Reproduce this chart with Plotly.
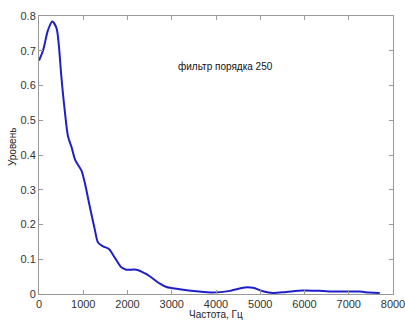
import plotly.graph_objects as go

freq = [0, 90, 205, 300, 395, 445, 505, 580, 655, 730, 820, 960, 1035, 1145,
        1260, 1335, 1450, 1585, 1710, 1860, 1975, 2200, 2430, 2730, 2880, 3180,
        3555, 3930, 4310, 4650, 4835, 5060, 5290, 5590, 5965, 6340, 6720, 7250,
        7470, 7700]
level = [0.672, 0.700, 0.760, 0.784, 0.765, 0.720, 0.626, 0.530, 0.454, 0.425,
         0.385, 0.355, 0.320, 0.253, 0.186, 0.148, 0.137, 0.129, 0.105, 0.077,
         0.070, 0.070, 0.057, 0.030, 0.020, 0.014, 0.008, 0.004, 0.009, 0.019,
         0.018, 0.008, 0.003, 0.006, 0.010, 0.009, 0.007, 0.007, 0.004, 0.003]

x_ticks = [0, 1000, 2000, 3000, 4000, 5000, 6000, 7000, 8000]
y_ticks = [0, 0.1, 0.2, 0.3, 0.4, 0.5, 0.6, 0.7, 0.8]
y_labels = ["0", "0.1", "0.2", "0.3", "0.4", "0.5", "0.6", "0.7", "0.8"]

FONT = "Liberation Sans, Arial"

fig = go.Figure()
fig.add_trace(go.Scatter(x=freq, y=level, mode="lines",
                         line=dict(color="#1f1fc8", width=2, shape="spline", smoothing=0.8),
                         showlegend=False))

axis_common = dict(showline=True, linecolor="#9a9a9a", linewidth=1, mirror="ticks",
                   ticks="inside", ticklen=4, tickcolor="#9a9a9a", showgrid=False,
                   zeroline=False, automargin=False, ticklabeloverflow="allow",
                   tickfont=dict(family=FONT, size=11, color="#333"))

fig.update_xaxes(range=[0, 8000], tickvals=x_ticks, **axis_common)
fig.update_yaxes(range=[0, 0.8], tickvals=y_ticks, ticktext=y_labels, **axis_common)

fig.add_annotation(x=0.5, y=-0.073, xref="paper", yref="paper", yanchor="middle",
                   xanchor="center", text="Частота, Гц", showarrow=False,
                   font=dict(family=FONT, size=10, color="#222"))
fig.add_annotation(x=-0.075, y=0.53, xref="paper", yref="paper", textangle=-90,
                   xanchor="center", yanchor="middle",
                   text="Уровень", showarrow=False,
                   font=dict(family=FONT, size=10, color="#222"))

fig.add_annotation(x=4220, y=0.654, xref="x", yref="y", text="фильтр порядка 250",
                   showarrow=False, font=dict(family=FONT, size=10, color="#111"))

fig.update_layout(width=405, height=320, margin=dict(l=39, r=12, t=16, b=26, autoexpand=False),
                  paper_bgcolor="white", plot_bgcolor="white")

fig.write_html("out.html")
